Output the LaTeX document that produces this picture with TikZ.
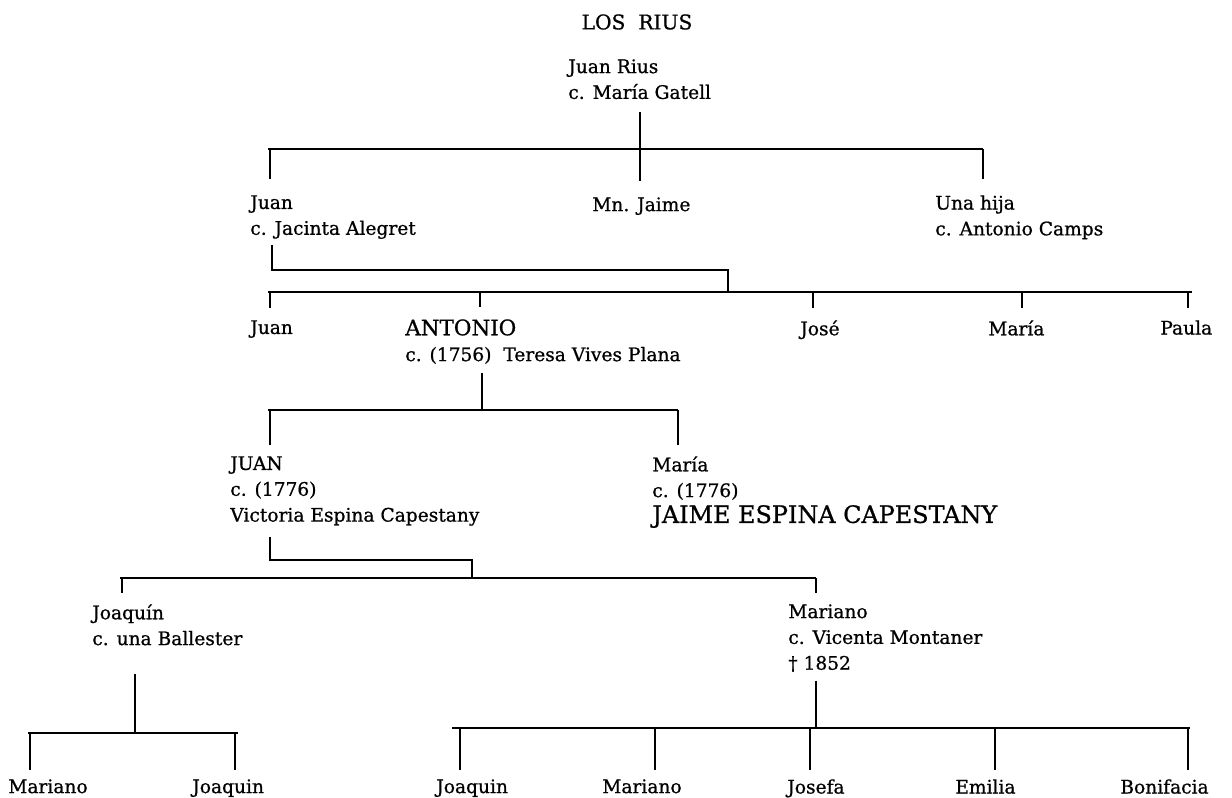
\documentclass[tikz,border=0pt]{standalone}
\usepackage{fontspec}
\setmainfont{DejaVu Serif}[FakeBold=0.8]
\begin{document}
\begin{tikzpicture}[x=0.02cm,y=-0.02cm,
  every node/.style={inner sep=0pt,anchor=north west,align=left,
    font=\fontsize{10.6}{14.7}\selectfont},
  line/.style={line width=0.9pt},
  tick/.style={line width=0.9pt,shorten >=#1}]
\fill[white] (0,0) rectangle (1232,798);
\useasboundingbox (0,0) rectangle (1232,798);

% titulo
\node[anchor=center,font=\fontsize{11.5}{14}\selectfont] (titulo) at (637,22) {LOS\ \ RIUS};

% Juan Rius
\node (rius) at (568,59) {Juan Rius\\c. María Gatell};
\node (juan1) at (250,195) {Juan\\c. Jacinta Alegret};
\node (jaime) at (592,197) {Mn. Jaime};
\node (hija) at (935,195) {Una hija\\c. Antonio Camps};

% hijos de Juan
\node (juan2) at (250,320) {Juan};
\node (antonio) at (405,319) {{\fontsize{12.2}{14.7}\selectfont ANTONIO}\\c. (1756)\ \ Teresa Vives Plana};
\node (jose) at (800,320) {José};
\node (maria1) at (988,320) {María};
\node (paula) at (1160,320) {Paula};

% hijos de Antonio
\node (juan3) at (230,456) {JUAN\\c. (1776)\\Victoria Espina Capestany};
\node (maria2) at (652,456) {María\\c. (1776)\\{\fontsize{13.6}{15}\selectfont JAIME ESPINA CAPESTANY}};

% hijos de Juan
\node (joaquin1) at (92,604) {Joaquín\\c. una Ballester};
\node (mariano1) at (788,604) {Mariano\\c. Vicenta Montaner\\† 1852};

% nietos
\node (mariano2) at (8,779) {Mariano};
\node (joaquin2) at (192,779) {Joaquin};
\node (joaquin3) at (436,779) {Joaquin};
\node (mariano3) at (602,779) {Mariano};
\node (josefa) at (787,779) {Josefa};
\node (emilia) at (955,779) {Emilia};
\node (bonifacia) at (1120,779) {Bonifacia};

% barras
\coordinate (a0) at (268,149);
\coordinate (aJ) at (640,149);
\coordinate (a1) at (983,149);
\coordinate (b0) at (272,270);
\coordinate (b1) at (728,270);
\coordinate (c0) at (268,292);
\coordinate (c1) at (1192,292);
\coordinate (d0) at (268,410);
\coordinate (dA) at (482,410);
\coordinate (d1) at (678,410);
\coordinate (e0) at (270,560);
\coordinate (e1) at (472,560);
\coordinate (f0) at (120,578);
\coordinate (f1) at (816,578);
\coordinate (g0) at (28,733);
\coordinate (gJ) at (135,733);
\coordinate (g1) at (238,733);
\coordinate (h0) at (452,728);
\coordinate (hM) at (816,728);
\coordinate (h1) at (1190,728);

\draw[line,shorten <=7pt] (aJ |- rius.south) -- (aJ);
\draw[line] (a0) -- (a1);
\draw[tick=9pt] (a0) ++(2,0) coordinate (a0t) -- (a0t |- juan1.north);
\draw[tick=9pt] (aJ) -- (aJ |- jaime.north);
\draw[tick=9pt] (a1) -- (a1 |- hija.north);

\draw[line,shorten <=3pt] (b0 |- juan1.south) -- (b0) -- (b1) -- (b1 |- c0);
\draw[line] (c0) -- (c1);
\draw[tick=7pt] (270,292) coordinate (c0t) -- (c0t |- juan2.north);
\draw[tick=7pt] (480,292) coordinate (cAt) -- (cAt |- antonio.north);
\draw[tick=7pt] (813,292) coordinate (cJt) -- (cJt |- jose.north);
\draw[tick=7pt] (1022,292) coordinate (cMt) -- (cMt |- maria1.north);
\draw[tick=7pt] (1188,292) coordinate (cPt) -- (cPt |- paula.north);

\draw[line,shorten <=5pt] (dA |- antonio.south) -- (dA);
\draw[line] (d0) -- (d1);
\draw[tick=6pt] (270,410) coordinate (d0t) -- (d0t |- juan3.north);
\draw[tick=6pt] (d1) -- (d1 |- maria2.north);

\draw[line,shorten <=6pt] (e0 |- juan3.south) -- (e0) -- (e1) -- (e1 |- f0);
\draw[line] (f0) -- (f1);
\draw[tick=6pt] (122,578) coordinate (f0t) -- (f0t |- joaquin1.north);
\draw[tick=6pt] (f1) -- (f1 |- mariano1.north);

\draw[line,shorten <=16pt] (gJ |- joaquin1.south) -- (gJ);
\draw[line] (g0) -- (g1);
\draw[tick=5pt] (30,733) coordinate (g0t) -- (g0t |- mariano2.north);
\draw[tick=5pt] (235,733) coordinate (g1t) -- (g1t |- joaquin2.north);

\draw[line,shorten <=5pt] (hM |- mariano1.south) -- (hM);
\draw[line] (h0) -- (h1);
\draw[tick=5pt] (460,728) coordinate (h0t) -- (h0t |- joaquin3.north);
\draw[tick=5pt] (655,728) coordinate (h2t) -- (h2t |- mariano3.north);
\draw[tick=5pt] (810,728) coordinate (h3t) -- (h3t |- josefa.north);
\draw[tick=5pt] (995,728) coordinate (h4t) -- (h4t |- emilia.north);
\draw[tick=5pt] (1188,728) coordinate (h5t) -- (h5t |- bonifacia.north);
\end{tikzpicture}
\end{document}
